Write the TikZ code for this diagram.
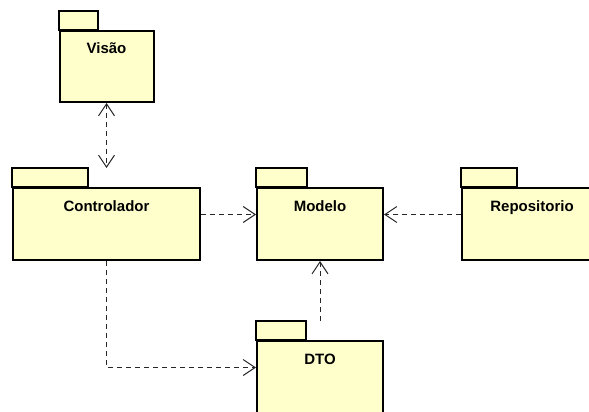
\documentclass[tikz,border=0pt]{standalone}
\usepackage{fontspec}
\newfontfamily\pkgfont{Liberation Sans}
\usetikzlibrary{arrows.meta}
\definecolor{pkgfill}{RGB}{255,255,204}
\tikzset{
  pkg/.style = {rectangle, draw=black, fill=pkgfill, line width=2pt,
    inner sep=0pt, minimum height=72pt, text height=23pt, text depth=49pt,
    font=\pkgfont\bfseries\fontsize{15}{18}\selectfont},
  pkg_tab/.style = {draw=black, fill=pkgfill, line width=2pt},% aba do pacote
  dep/.style = {black!85, line width=0.9pt, dash pattern=on 5pt off 4pt}% dependencia
}
\newcommand{\pkgtab}[2]{\draw[pkg_tab] (#1.north west) rectangle ++(#2,-19);}

\begin{document}
\begin{tikzpicture}[x=1pt, y=-1pt,
  >={Straight Barb[length=12pt, width=16pt, line width=1pt]}]
\useasboundingbox (0,0) rectangle (589,412);

\node [pkg, minimum width=94pt, minimum height=71pt, text depth=48pt] (visao) at (106.5,66.5) {Visão};
\node [pkg, minimum width=187pt] (ctrl) at (106.5,224) {Controlador};
\node [pkg, minimum width=126pt] (modelo) at (320,224) {Modelo};
\node [pkg, minimum width=140pt] (repo) at (532,224) {Repositorio};
\node [pkg, minimum width=126pt] (dto) at (320,377) {DTO};

\pkgtab{visao}{39}
\pkgtab{ctrl}{76}
\pkgtab{modelo}{51}
\pkgtab{repo}{56}
\pkgtab{dto}{50}

\draw [dep, <->] (visao.south) -- ([yshift=19pt]ctrl.north);
\draw [dep, ->] ([yshift=9.5pt]ctrl.east) -- ([yshift=9.5pt]modelo.west);
\draw [dep, ->] ([yshift=9.5pt]repo.west) -- ([yshift=9.5pt]modelo.east);
\draw [dep, ->] ([yshift=19pt]dto.north) -- (modelo.south);
\draw [dep, ->] (ctrl.south) |- ([yshift=9.5pt]dto.west);

\end{tikzpicture}
\end{document}
